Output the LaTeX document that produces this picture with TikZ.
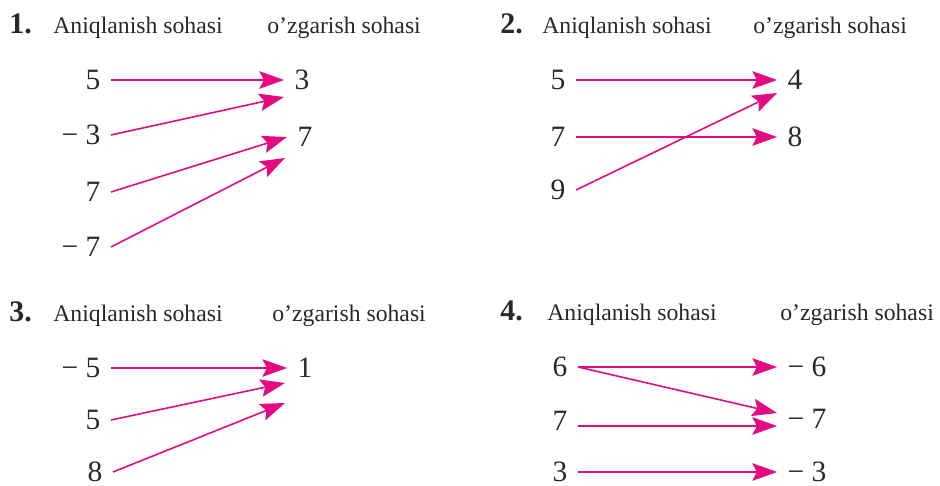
\documentclass[tikz,border=0pt]{standalone}
\usepackage{fontspec}
\setmainfont{Liberation Serif}
\usetikzlibrary{arrows.meta}
\definecolor{mapcol}{RGB}{228,10,130}
\definecolor{inkcol}{RGB}{40,40,40}

\begin{document}
\begin{tikzpicture}[
    x=0.02cm, y=-0.02cm,
    idx/.style={anchor=base west,inner sep=0,font=\fontsize{17}{17}\selectfont\bfseries,text=inkcol},
    head/.style={anchor=base west,inner sep=0,font=\fontsize{13.5}{14}\selectfont,text=inkcol},
    num/.style={inner sep=0,outer xsep=6pt,font=\fontsize{16.8}{17}\selectfont,text=inkcol},
    lnum/.style={num,anchor=east},
    rnum/.style={num,anchor=west},
    map/.style={draw=mapcol,line width=0.9pt,-{Stealth[length=14pt,width=10pt,inset=2.5pt]}}
]
    \useasboundingbox (0,0) rectangle (940,486);

    % Panel 1 — top left
    \node[idx] (n1) at (9,34) {1.};
    \node[head] (d1) at (53,34) {Aniqlanish sohasi};
    \node[head] (r1) at (267,34) {o’zgarish sohasi};
    \node[lnum] (p1a) at (111,80) {5};
    \node[lnum] (p1b) at (111,135) {−~3};
    \node[lnum] (p1c) at (111,192) {7};
    \node[lnum] (p1d) at (111,247) {−~7};
    \node[rnum] (q1a) at (284,80) {3};
    \node[rnum] (q1b) at (287,137) {7};
    \draw[map] (p1a.east) -- (q1a.west);
    \draw[map] (p1b.east) -- ([shift={(0,17)}]q1a.west);
    \draw[map] (p1c.east) -- (q1b.west);
    \draw[map] (p1d.east) -- ([shift={(-2,21)}]q1b.west);

    % Panel 2 — top right
    \node[idx] (n2) at (500,34) {2.};
    \node[head] (d2) at (542,34) {Aniqlanish sohasi};
    \node[head] (r2) at (753,34) {o’zgarish sohasi};
    \node[lnum] (p2a) at (576,80) {5};
    \node[lnum] (p2b) at (576,137) {7};
    \node[lnum] (p2c) at (576,190) {9};
    \node[rnum] (q2a) at (777,80) {4};
    \node[rnum] (q2b) at (777,137) {8};
    \draw[map] (p2a.east) -- (q2a.west);
    \draw[map] (p2b.east) -- (q2b.west);
    \draw[map] (p2c.east) -- ([shift={(0,13)}]q2a.west);

    % Panel 3 — bottom left
    \node[idx] (n3) at (9,321) {3.};
    \node[head] (d3) at (53,321) {Aniqlanish sohasi};
    \node[head] (r3) at (272,321) {o’zgarish sohasi};
    \node[lnum] (p3a) at (111,368) {−~5};
    \node[lnum] (p3b) at (111,420) {5};
    \node[lnum] (p3c) at (113,472) {8};
    \node[rnum] (q3a) at (287,368) {1};
    \draw[map] (p3a.east) -- (q3a.west);
    \draw[map] (p3b.east) -- ([shift={(-2,15)}]q3a.west);
    \draw[map] (p3c.east) -- ([shift={(-2,35)}]q3a.west);

    % Panel 4 — bottom right
    \node[idx] (n4) at (500,320) {4.};
    \node[head] (d4) at (547,320) {Aniqlanish sohasi};
    \node[head] (r4) at (780,320) {o’zgarish sohasi};
    \node[lnum] (p4a) at (578,367) {6};
    \node[lnum] (p4b) at (578,421) {7};
    \node[lnum] (p4c) at (578,472) {3};
    \node[rnum] (q4a) at (777,367) {−~6};
    \node[rnum] (q4b) at (777,419) {−~7};
    \node[rnum] (q4c) at (777,472) {−~3};
    \draw[map] (p4a.east) -- (q4a.west);
    \draw[map] (p4a.east) -- ([shift={(0,-6)}]q4b.west);
    \draw[map] ([shift={(0,5)}]p4b.east) -- ([shift={(0,7)}]q4b.west);
    \draw[map] (p4c.east) -- (q4c.west);
\end{tikzpicture}
\end{document}
